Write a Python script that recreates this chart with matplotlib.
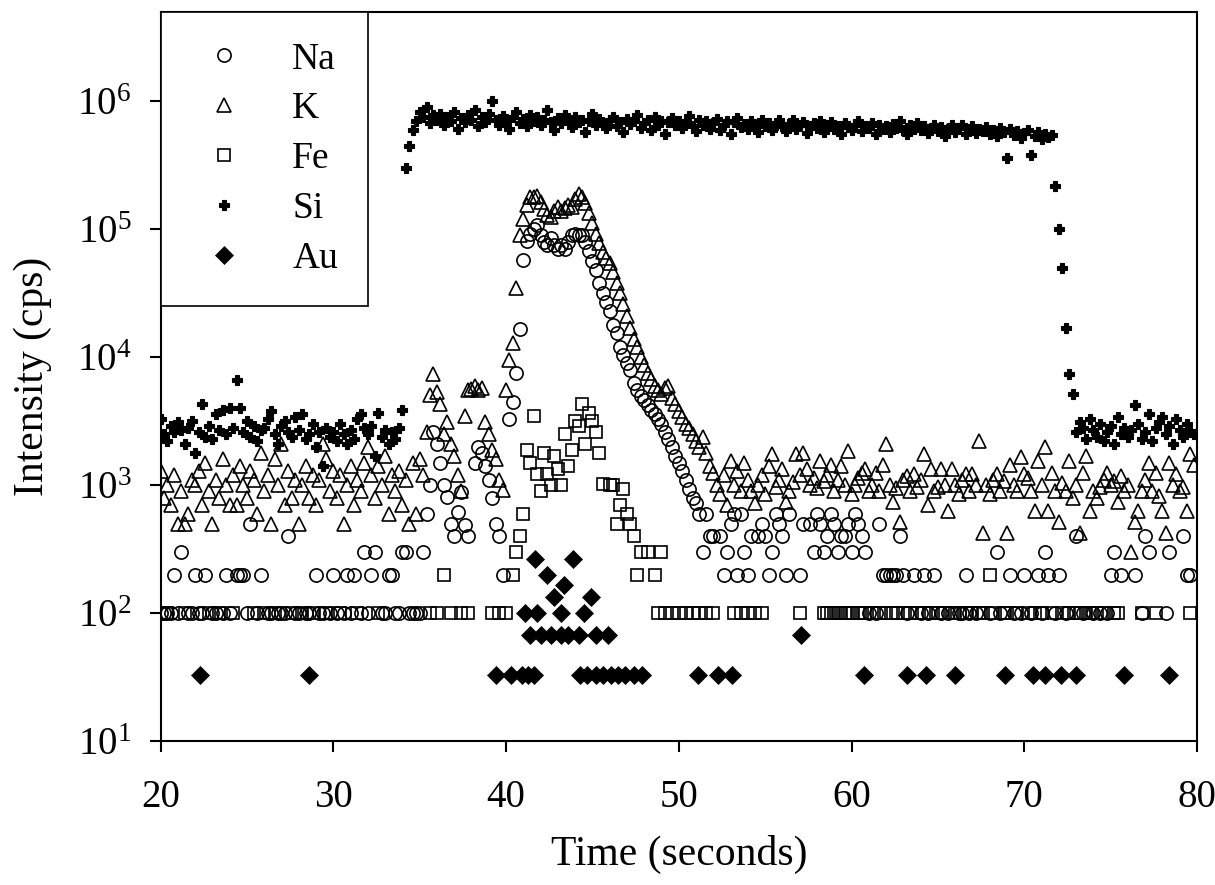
import numpy as np
import matplotlib
matplotlib.use("Agg")
import matplotlib.pyplot as plt
from matplotlib.ticker import NullLocator

# ---------------- data ----------------
time_start = 20.0   # s, first sample
time_step = 0.2     # s, sampling interval

si = [
    3300, 2500, 2200, 2900, 2600, 3100, 2700, 2100, 2800, 3200,
    1800, 2600, 4300, 2400, 2900, 2300, 3600, 2700, 3900, 2500,
    4000, 2800, 6700, 4000, 2600, 3200, 2400, 2900, 2200, 2700,
    2800, 3300, 3800, 2500, 2100, 2900, 3200, 2600, 2400, 3400,
    2700, 3600, 2300, 2500, 3000, 2000, 2600, 1400, 2800, 2400,
    2600, 2200, 3000, 2500, 2100, 2700, 2300, 3300, 3600, 2800,
    2500, 2900, 1700, 3700, 2400, 2700, 2100, 2600, 2300, 2800,
    3900, 300000, 450000, 600000, 700000, 820000, 750000, 900000, 680000, 780000,
    720000, 800000, 650000, 760000, 700000, 830000, 610000, 740000, 690000, 780000,
    710000, 860000, 640000, 750000, 690000, 800000, 1000000, 720000, 660000, 770000,
    700000, 610000, 760000, 820000, 680000, 730000, 640000, 790000, 700000, 750000,
    660000, 720000, 850000, 690000, 600000, 740000, 680000, 780000, 710000, 630000,
    760000, 690000, 720000, 580000, 700000, 800000, 650000, 730000, 680000, 620000,
    710000, 760000, 640000, 690000, 580000, 730000, 670000, 700000, 780000, 620000,
    680000, 720000, 600000, 750000, 660000, 700000, 560000, 690000, 740000, 650000,
    700000, 620000, 680000, 770000, 640000, 590000, 720000, 660000, 700000, 610000,
    680000, 730000, 600000, 650000, 700000, 560000, 690000, 740000, 630000, 670000,
    610000, 700000, 650000, 580000, 720000, 640000, 680000, 600000, 660000, 710000,
    640000, 590000, 670000, 720000, 610000, 650000, 690000, 570000, 640000, 680000,
    620000, 700000, 580000, 650000, 690000, 610000, 640000, 560000, 680000, 630000,
    600000, 660000, 700000, 590000, 640000, 620000, 680000, 560000, 650000, 610000,
    640000, 580000, 670000, 620000, 700000, 600000, 560000, 650000, 610000, 680000,
    600000, 640000, 570000, 620000, 660000, 590000, 630000, 540000, 610000, 650000,
    580000, 620000, 660000, 560000, 600000, 640000, 570000, 610000, 590000, 630000,
    560000, 600000, 540000, 620000, 580000, 360000, 610000, 550000, 590000, 520000,
    570000, 600000, 380000, 540000, 580000, 510000, 560000, 530000, 550000, 220000,
    100000, 50000, 17000, 7400, 5200, 2600, 3100, 2800, 2300, 3300,
    2700, 2400, 3000, 2200, 2600, 2900, 2100, 3400, 2500, 2800,
    2400, 2700, 4200, 3000, 2300, 2600, 3600, 2200, 2800, 3100,
    3400, 2500, 2900, 2100, 3300, 2700, 2400, 3000, 2600, 2500,
]

k = [
    1300, 800, 1000, 700, 1200, 500, 900, 500, 600, 1100,
    1000, 1300, 700, 1500, 900, 500, 1100, 800, 1600, 1000,
    700, 1200, 700, 1400, 1000, 800, 1300, 1100, 600, 1800,
    900, 1200, 500, 1600, 1000, 2100, 700, 1300, 800, 1100,
    500, 1000, 1400, 800, 1200, 700, 1100, 2100, 1600, 900,
    1300, 800, 1200, 500, 1000, 1400, 700, 1100, 900, 1500,
    2000, 1200, 800, 1400, 1000, 1700, 600, 1200, 900, 1300,
    700, 1100, 500, 1500, 600, 1600, 1200, 2600, 5100, 7400,
    5400, 4300, 2500, 3100, 2100, 1700, 1200, 900, 3500, 5500,
    5600, 6000, 5500, 5800, 3100, 2500, 1900, 1600, 1100, 920,
    5500, 9600, 13000, 35000, 90000, 120000, 155000, 180000, 178000, 182000,
    165000, 145000, 130000, 125000, 140000, 150000, 138000, 148000, 155000, 150000,
    172000, 188000, 180000, 160000, 135000, 112000, 92000, 78000, 66000, 60000,
    55000, 46000, 38000, 32000, 26000, 21000, 17000, 14000, 12000, 10000,
    8700, 7600, 6800, 6000, 5500, 5200, 5800, 6000, 4800, 4300,
    3800, 3400, 3000, 2800, 2500, 2200, 2000, 2400, 1800, 1400,
    1250, 1000, 850, 1200, 700, 1550, 1000, 1300, 900, 1500,
    1100, 900, 720, 1000, 1200, 850, 1400, 1750, 960, 1100,
    1330, 740, 900, 1050, 1750, 1200, 1800, 1330, 1000, 1130,
    950, 1550, 1070, 1200, 1450, 900, 1100, 1400, 1000, 1850,
    850, 1000, 1130, 1250, 1330, 900, 1000, 1250, 900, 1450,
    2100, 1000, 740, 950, 520, 1100, 1180, 900, 1230, 960,
    1100, 1750, 700, 1330, 900, 960, 1330, 1000, 630, 1330,
    1000, 850, 1100, 1230, 900, 1230, 1000, 2200, 420, 1000,
    850, 1100, 1230, 900, 1070, 420, 1450, 1000, 900, 1650,
    1230, 1130, 900, 630, 1550, 1000, 2000, 630, 1250, 900,
    520, 1040, 900, 1550, 790, 1000, 420, 1250, 1700, 630,
    900, 790, 960, 1100, 1250, 1000, 1070, 740, 1180, 900,
    1000, 300, 520, 630, 900, 1100, 1500, 900, 1250, 820,
    630, 420, 1500, 1000, 1230, 900, 960, 630, 1750, 1450,
]

# 0 = not detected (not drawn on the log axis)
na = [
    100, 100, 100, 100, 200, 100, 300, 0, 100, 100,
    200, 100, 100, 200, 0, 100, 100, 0, 100, 200,
    100, 0, 200, 200, 200, 100, 500, 0, 100, 200,
    0, 100, 100, 0, 100, 100, 100, 400, 0, 100,
    100, 0, 100, 100, 0, 200, 100, 100, 0, 100,
    200, 100, 0, 100, 200, 100, 200, 0, 100, 300,
    100, 200, 300, 0, 100, 100, 200, 200, 100, 100,
    300, 300, 100, 100, 100, 100, 300, 600, 1000, 2600,
    2100, 1500, 1000, 810, 500, 400, 620, 890, 490, 400,
    0, 1500, 2000, 1800, 1400, 1100, 800, 500, 400, 200,
    0, 3300, 4500, 7500, 16500, 58000, 81000, 92000, 100000, 108000,
    90000, 80000, 75000, 85000, 75000, 70000, 76000, 70000, 80000, 90000,
    92000, 90000, 90000, 80000, 68000, 57000, 48000, 38000, 32000, 27000,
    23000, 18000, 15500, 12000, 10500, 9100, 8000, 6300, 5500, 5000,
    4600, 4200, 3900, 3600, 3300, 3000, 2600, 2300, 2000, 1700,
    1500, 1300, 1100, 940, 800, 720, 600, 300, 600, 400,
    400, 0, 400, 200, 300, 500, 600, 200, 600, 300,
    200, 400, 0, 400, 500, 400, 200, 300, 600, 500,
    400, 200, 600, 0, 0, 200, 500, 0, 500, 300,
    600, 500, 300, 400, 600, 500, 300, 400, 400, 500,
    300, 600, 500, 400, 300, 100, 0, 100, 500, 200,
    200, 200, 200, 200, 400, 200, 100, 0, 200, 0,
    100, 200, 100, 0, 200, 0, 100, 0, 100, 0,
    0, 100, 100, 200, 100, 0, 100, 0, 0, 0,
    100, 0, 300, 100, 0, 0, 200, 100, 0, 100,
    200, 0, 100, 0, 200, 100, 300, 200, 0, 100,
    200, 0, 100, 0, 0, 400, 0, 100, 0, 0,
    100, 0, 100, 0, 100, 200, 300, 0, 200, 0,
    0, 0, 200, 0, 100, 400, 300, 0, 0, 0,
    0, 100, 300, 0, 0, 0, 400, 200, 200, 0,
]

fe = [
    0, 0, 100, 0, 0, 0, 0, 100, 0, 0,
    0, 0, 0, 0, 100, 0, 0, 100, 0, 0,
    0, 100, 0, 0, 0, 0, 0, 100, 0, 0,
    100, 0, 0, 100, 0, 0, 0, 0, 100, 0,
    0, 100, 0, 0, 100, 0, 0, 0, 100, 0,
    0, 0, 100, 0, 0, 0, 0, 100, 0, 0,
    0, 0, 0, 100, 0, 0, 0, 0, 0, 0,
    0, 0, 0, 0, 0, 0, 0, 0, 100, 0,
    100, 0, 200, 0, 100, 0, 0, 100, 0, 100,
    0, 0, 0, 0, 0, 0, 100, 0, 100, 0,
    100, 0, 200, 300, 400, 600, 1900, 1500, 3500, 1230,
    900, 1800, 1230, 1000, 1700, 1350, 1000, 2500, 1400, 1900,
    3200, 2900, 4300, 2100, 3700, 3200, 2600, 1800, 1020, 0,
    1000, 1000, 500, 700, 940, 600, 500, 400, 200, 300,
    0, 300, 0, 200, 100, 300, 100, 0, 100, 0,
    100, 0, 100, 0, 100, 0, 100, 0, 100, 0,
    100, 0, 0, 0, 0, 0, 100, 0, 100, 0,
    100, 0, 100, 0, 100, 0, 0, 0, 0, 0,
    0, 0, 0, 0, 0, 100, 0, 0, 0, 0,
    0, 0, 100, 100, 100, 100, 100, 100, 100, 100,
    100, 0, 100, 100, 100, 0, 100, 0, 100, 0,
    100, 0, 100, 100, 0, 100, 0, 100, 0, 100,
    0, 100, 0, 100, 0, 100, 0, 100, 0, 100,
    100, 0, 0, 100, 0, 100, 0, 100, 100, 0,
    200, 100, 0, 0, 100, 100, 0, 0, 100, 0,
    0, 100, 0, 100, 0, 100, 0, 0, 100, 0,
    0, 100, 0, 100, 0, 100, 100, 0, 100, 100,
    0, 100, 0, 100, 0, 0, 100, 100, 0, 0,
    0, 0, 0, 0, 100, 0, 0, 0, 100, 0,
    0, 0, 0, 0, 0, 0, 0, 0, 100, 0,
]

au_time = [22.3, 28.6, 39.4, 40.3, 40.9, 41.3, 41.6,
           41.1, 41.4, 41.7, 41.8, 42.0, 42.4, 42.6, 42.8, 43.2, 43.2, 43.35,
           43.6, 43.9, 44.2, 44.3, 44.5, 44.7, 44.9, 45.2, 45.2, 45.6, 45.9,
           46.1, 46.5, 46.9, 47.4, 47.9, 51.1, 52.3, 53.1, 57.1, 60.7, 63.2,
           64.3, 66.0, 68.9, 70.5, 71.2, 72.1, 73.0, 75.8, 78.4]
au_counts = [33, 33, 33, 33, 33, 33, 33,
             100, 67, 267, 100, 67, 200, 67, 133, 67, 100, 167,
             67, 267, 67, 33, 100, 33, 133, 67, 33, 33, 67,
             33, 33, 33, 33, 33, 33, 33, 33, 67, 33, 33,
             33, 33, 33, 33, 33, 33, 33, 33, 33]

series_names = ["Na", "K", "Fe", "Si", "Au"]

# ---------------- styling ----------------
plt.rcParams["font.family"] = ["Liberation Serif", "DejaVu Serif"]
plt.rcParams["mathtext.fontset"] = "custom"
plt.rcParams["mathtext.rm"] = "Liberation Serif"
plt.rcParams["mathtext.it"] = "Liberation Serif:italic"
plt.rcParams["mathtext.bf"] = "Liberation Serif:bold"


def detected(values):
    arr = np.asarray(values, dtype=float)
    arr[arr <= 0] = np.nan
    return arr


time = time_start + time_step * np.arange(len(si))

fig = plt.figure(figsize=(12.15, 8.85), dpi=100)
ax = fig.add_axes([0.1321, 0.1627, 0.8531, 0.8237])

common = dict(linestyle="none", color="black")
h_na, = ax.plot(time, detected(na), marker="o", ms=9.5, mfc="none",
                mec="black", mew=1.2, label=series_names[0], **common)
h_k, = ax.plot(time, detected(k), marker="^", ms=10.5, mfc="none",
               mec="black", mew=1.2, label=series_names[1], **common)
h_fe, = ax.plot(time, detected(fe), marker="s", ms=8.5, mfc="none",
                mec="black", mew=1.2, label=series_names[2], **common)
h_si, = ax.plot(time, detected(si), marker="P", ms=7, mfc="black",
                mec="black", mew=0.8, label=series_names[3], **common)
h_au, = ax.plot(au_time, au_counts, marker="D", ms=9.5, mfc="black",
                mec="black", mew=0.5, label=series_names[4], **common)

ax.set_yscale("log")
ax.set_xlim(20, 80)
ax.set_ylim(10, 5e6)
ax.set_xticks([20, 30, 40, 50, 60, 70, 80])
ax.set_xticklabels(["20", "30", "40", "50", "60", "70", "80"])
yt = [1e1, 1e2, 1e3, 1e4, 1e5, 1e6]
ax.set_yticks(yt)
ax.set_yticklabels([r"$10^{%d}$" % e for e in range(1, 7)])
ax.yaxis.set_minor_locator(NullLocator())
ax.xaxis.set_minor_locator(NullLocator())

for s in ax.spines.values():
    s.set_linewidth(1.5)
    s.set_color("black")

ax.tick_params(axis="both", which="major", direction="out", length=8,
               width=1.5, labelsize=28, colors="black")
ax.tick_params(axis="y", pad=13)
ax.tick_params(axis="x", pad=19)

ax.set_xlabel("Time (seconds)", fontsize=30, labelpad=14)
ax.set_ylabel("Intensity (cps)", fontsize=30, labelpad=18)

leg = ax.legend(handles=[h_na, h_k, h_fe, h_si, h_au], loc="upper left",
                bbox_to_anchor=(0, 1), borderaxespad=0, fontsize=27,
                frameon=True, fancybox=False, shadow=False,
                borderpad=0.8, labelspacing=0.41, handlelength=1.78,
                handletextpad=0.93, numpoints=1)
leg.get_frame().set_edgecolor("black")
leg.get_frame().set_linewidth(1.2)
leg.get_frame().set_facecolor("white")
leg.get_frame().set_alpha(1)

fig.savefig("out.png", dpi=100, facecolor="white")
